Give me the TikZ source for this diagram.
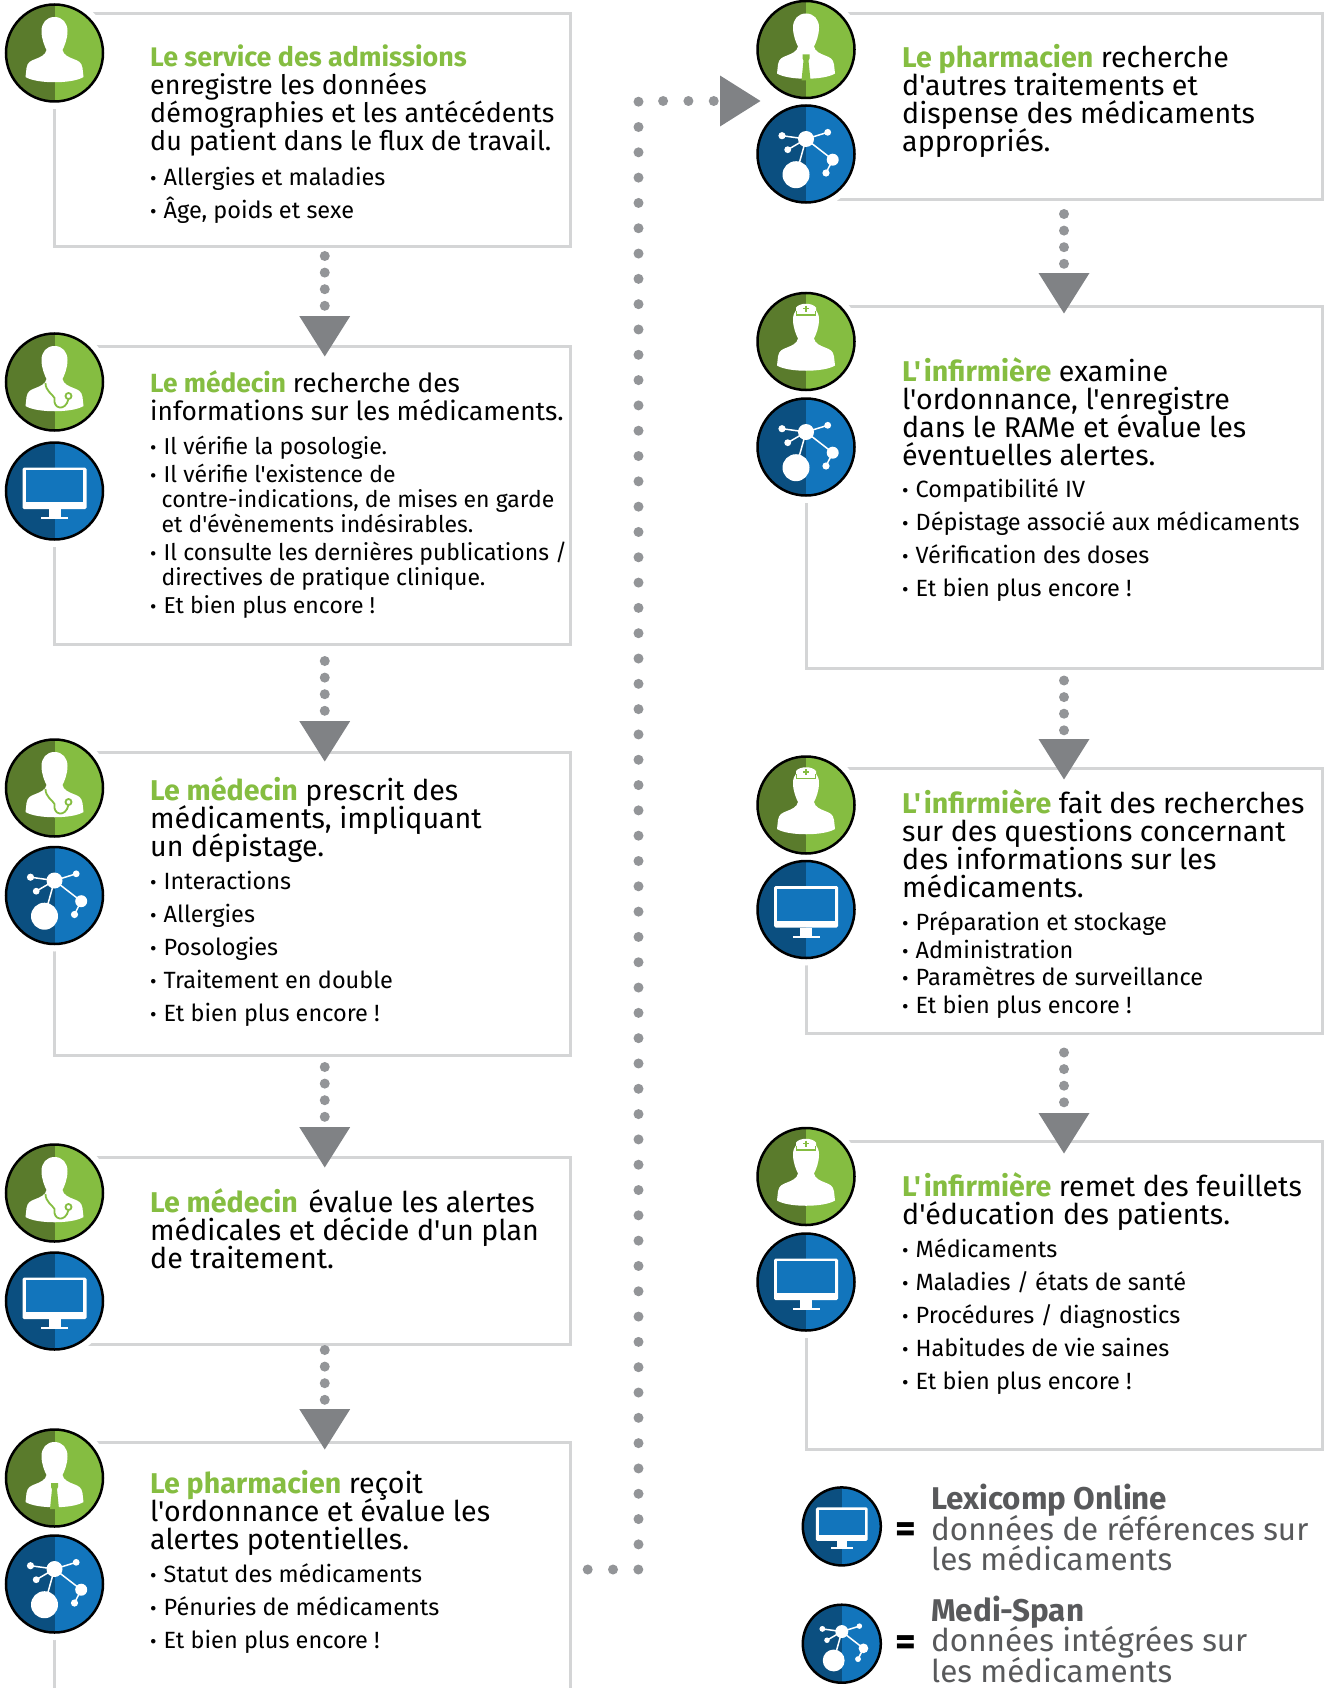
\documentclass[tikz,border=0pt]{standalone}
\usepackage{fontspec}
\setmainfont{Fira Sans}[Ligatures=TeXOff]
\usepackage{tikz}
\usetikzlibrary{positioning}
\usetikzlibrary{arrows.meta}
\definecolor{lightgreen}{HTML}{85BD41}
\definecolor{darkgreen}{HTML}{5A7B2C}
\definecolor{lightblue}{HTML}{1275BC}
\definecolor{darkblue}{HTML}{0B4F80}
\definecolor{framegrey}{HTML}{D4D5D6}
\definecolor{dotgrey}{HTML}{939598}
\definecolor{trigrey}{HTML}{808285}
\definecolor{legendgrey}{HTML}{58595B}
\newcommand{\role}[1]{\textcolor{lightgreen}{\textbf{#1}}}
\newcommand{\puce}{\makebox[13.5pt][l]{\scalebox{0.85}{•}}}
\newcommand{\suite}{\hspace*{11.5pt}}
\newcommand{\tailletexte}[2]{\fontsize{#1}{#2}\selectfont\lineskiplimit=-100pt\relax}
\tikzset{
  frame/.style={rectangle, draw=framegrey, line width=3pt, outer sep=0pt, inner sep=0pt, anchor=north west},
  badge/.style={circle, draw=black, line width=2.5pt, outer sep=0pt, inner sep=0pt, minimum size=97pt},
  greenbadge/.style={badge, fill=lightgreen, path picture={\fill[darkgreen] (path picture bounding box.north west) rectangle (path picture bounding box.south);}},
  bluebadge/.style={badge, fill=lightblue, path picture={\fill[darkblue] (path picture bounding box.north west) rectangle (path picture bounding box.south);}},
  flow/.style={line width=10pt, dotgrey, line cap=round, dash pattern=on 0pt off 16.6pt, -{Triangle[length=41pt,width=48pt,color=trigrey]}},
  longflow/.style={flow, dash pattern=on 0pt off 25.31pt},
  headtext/.style={anchor=north west, inner sep=0pt, align=left, font=\tailletexte{28.6}{28}},
  headsmall/.style={headtext, font=\tailletexte{26.85}{28}},
  listwide/.style={anchor=north west, inner sep=0pt, align=left, font=\tailletexte{23.5}{33}},
  listtight/.style={anchor=north west, inner sep=0pt, align=left, font=\tailletexte{23.5}{27.7}},
  legendtext/.style={anchor=north west, inner sep=0pt, align=left, text=legendgrey, font=\tailletexte{31.4}{30.5}},
  equal/.style={inner sep=0pt, font=\tailletexte{40}{40}\bfseries},
  bust/.pic={
    \fill[white] (0,-36) .. controls (8,-36) and (13,-30) .. (13,-22) .. controls (13,-14) and (10,-7) .. (8,-3)
      .. controls (9,2) and (14,4) .. (19,6) .. controls (24,8) and (27,9) .. (28,15) -- (29,24)
      .. controls (18,31) and (-18,31) .. (-29,24) -- (-28,15)
      .. controls (-27,9) and (-24,8) .. (-19,6) .. controls (-14,4) and (-9,2) .. (-8,-3)
      .. controls (-10,-7) and (-13,-14) .. (-13,-22) .. controls (-13,-30) and (-8,-36) .. (0,-36) -- cycle;
  },
  doctoricon/.pic={
    \pic {bust};
    \draw[lightgreen, line width=1.8pt] (-9,1) .. controls (-9,9) and (-2,12) .. (0,16) .. controls (-2,27) and (11,30) .. (14,17);
    \draw[lightgreen, line width=1.8pt, fill=white] (14,14) circle [radius=3];
  },
  pharmaicon/.pic={
    \pic {bust};
    \fill[lightgreen] (-3.5,5) -- (3.5,5) -- (3.5,9) -- (2.5,11) -- (4.5,31) -- (-4.5,31) -- (-2.5,11) -- (-3.5,9) -- cycle;
  },
  nurseicon/.pic={
    \pic {bust};
    \fill[white] (-10,-27) -- (-10,-34) .. controls (-6,-39) and (6,-39) .. (10,-34) -- (10,-27) -- cycle;
    \draw[lightgreen, line width=1.1pt] (-9.5,-31) -- (-9.5,-26.5) -- (9.5,-26.5) -- (9.5,-31);
    \draw[lightgreen, line width=1.3pt] (-3,-33) -- (3,-33) (0,-36) -- (0,-30);
  },
  screenicon/.pic={
    \fill[white, rounded corners=1.5pt] (-32,-23.5) rectangle (32,18);
    \fill[lightblue] (-28.7,-20.7) rectangle (28.7,11);
    \fill[white] (-6,18) rectangle (6,26);
    \fill[white] (-13.5,26) rectangle (13.5,28);
  },
  neticon/.pic={
    \draw[white, line width=1.5pt] (-10,20.7) -- (0,-15) -- (21.7,-21.7) (0,-15) -- (-24,-18.3) (0,-15) -- (-18.3,-4.3) (0,-15) -- (26.7,5.7) -- (20,19);
    \fill[white] (0,-15) circle [radius=8];
    \fill[white] (-10,20.7) circle [radius=13.5];
    \fill[white] (21.7,-21.7) circle [radius=3.4];
    \fill[white] (-24,-18.3) circle [radius=3.6];
    \fill[white] (-18.3,-4.3) circle [radius=3.4];
    \fill[white] (26.7,5.7) circle [radius=6];
    \fill[white] (20,19) circle [radius=3.6];
  }
}
\begin{document}
\begin{tikzpicture}[x=1pt, y=-1pt]
\useasboundingbox (0,0) rectangle (1325,1688);
\clip (0,0) rectangle (1325,1688);
% frames
\node[frame, minimum width=516.5pt, minimum height=232.5pt] (box1) at (54,14) {};
\node[frame, minimum width=516.5pt, minimum height=298pt] (box2) at (54,346) {};
\node[frame, minimum width=516.5pt, minimum height=303pt] (box3) at (54,752) {};
\node[frame, minimum width=516.5pt, minimum height=187.5pt] (box4) at (54,1157) {};
\node[frame, minimum width=516.5pt, minimum height=280pt] (box5) at (54,1442) {};
\node[frame, minimum width=516pt, minimum height=186pt] (box6) at (806,14) {};
\node[frame, minimum width=516pt, minimum height=362.5pt] (box7) at (806,306) {};
\node[frame, minimum width=516pt, minimum height=265pt] (box8) at (806,768.5) {};
\node[frame, minimum width=516pt, minimum height=308pt] (box9) at (806,1141) {};
% white gaps round the badges
\foreach \hx/\hy in {54.5/53, 54.5/382, 54.5/491, 54.5/788, 54.5/895.5, 54.5/1193, 54.5/1301, 54.5/1478, 54.5/1584,
    806/49.5, 806/154, 806/341.5, 806/447, 806/805, 806/909.5, 806/1176.5, 806/1282}
  \fill[white] (\hx,\hy) circle [radius=56];
% badges
\node[greenbadge] (admis) at (54.5,53) {};
\pic at (admis) {bust};
\node[greenbadge] (doc1) at (54.5,382) {};
\pic at (doc1) {doctoricon};
\node[bluebadge] (lex1) at (54.5,491) {};
\pic at (lex1) {screenicon};
\node[greenbadge] (doc2) at (54.5,788) {};
\pic at (doc2) {doctoricon};
\node[bluebadge] (span1) at (54.5,895.5) {};
\pic at (span1) {neticon};
\node[greenbadge] (doc3) at (54.5,1193) {};
\pic at (doc3) {doctoricon};
\node[bluebadge] (lex2) at (54.5,1301) {};
\pic at (lex2) {screenicon};
\node[greenbadge] (pharma1) at (54.5,1478) {};
\pic at (pharma1) {pharmaicon};
\node[bluebadge] (span2) at (54.5,1584) {};
\pic at (span2) {neticon};
\node[greenbadge] (pharma2) at (806,49.5) {};
\pic at (pharma2) {pharmaicon};
\node[bluebadge] (span3) at (806,154) {};
\pic at (span3) {neticon};
\node[greenbadge] (nurse1) at (806,341.5) {};
\pic at (nurse1) {nurseicon};
\node[bluebadge] (span4) at (806,447) {};
\pic at (span4) {neticon};
\node[greenbadge] (nurse2) at (806,805) {};
\pic at (nurse2) {nurseicon};
\node[bluebadge] (lex3) at (806,909.5) {};
\pic at (lex3) {screenicon};
\node[greenbadge] (nurse3) at (806,1176.5) {};
\pic at (nurse3) {nurseicon};
\node[bluebadge] (lex4) at (806,1282) {};
\pic at (lex4) {screenicon};
% flows
\draw[flow] ([xshift=12.5pt,yshift=-9.5pt]box1.south) -- ([xshift=12.5pt,yshift=-11pt]box2.north);
\draw[flow] ([xshift=12.5pt,yshift=-17pt]box2.south) -- ([xshift=12.5pt,yshift=-10pt]box3.north);
\draw[flow] ([xshift=12.5pt,yshift=-12pt]box3.south) -- ([xshift=12.5pt,yshift=-11pt]box4.north);
\draw[flow] ([xshift=12.5pt,yshift=-5.5pt]box4.south) -- ([xshift=12.5pt,yshift=-8pt]box5.north);
\draw[flow] ([yshift=-14pt]box6.south) -- ([yshift=-8pt]box7.north);
\draw[flow] ([yshift=-12pt]box7.south) -- ([yshift=-11.5pt]box8.north);
\draw[flow] ([yshift=-19pt]box8.south) -- ([yshift=-13pt]box9.north);
\coordinate (longstart) at (587.7,1569.5);
\coordinate (longbottom) at (638.5,1569.5);
\coordinate (longtop) at (638.5,101);
\coordinate (longend) at (761,101);
\draw[longflow] (longstart) -- (longbottom) -- (longtop) -- (longend);
% texts
\node[headsmall] (head1) at (150,44.8) {\role{Le service des admissions}\\enregistre les données\\démographies et les antécédents\\du patient dans le flux de travail.};
\node[listwide] (list1) at (150,166.5) {\puce Allergies et maladies\\\puce Âge, poids et sexe};
\node[headsmall, font=\tailletexte{26.3}{28}] (head2) at (150,370.8) {\role{Le médecin} recherche des\\informations sur les médicaments.};
\node[listtight, font=\tailletexte{23}{27.7}] (list2) at (150,436) {\puce Il vérifie la posologie.\\\puce Il vérifie l'existence de\\[-2.4pt]\suite contre-indications, de mises en garde\\[-2.4pt]\suite et d'évènements indésirables.\\\puce Il consulte les dernières publications /\\[-2.4pt]\suite directives de pratique clinique.\\\puce Et bien plus encore !};
\node[headtext] (head3) at (150,776.5) {\role{Le médecin} prescrit des\\médicaments, impliquant\\un dépistage.};
\node[listwide] (list3) at (150,870.5) {\puce Interactions\\\puce Allergies\\\puce Posologies\\\puce Traitement en double\\\puce Et bien plus encore !};
\node[headtext] (head4) at (150,1188.5) {\role{Le médecin}\hspace{3pt} évalue les alertes\\médicales et décide d'un plan\\de traitement.};
\node[headtext] (head5) at (150,1470.5) {\role{Le pharmacien} reçoit\\l'ordonnance et évalue les\\alertes potentielles.};
\node[listwide] (list5) at (150,1563.7) {\puce Statut des médicaments\\\puce Pénuries de médicaments\\\puce Et bien plus encore !};
\node[headtext] (head6) at (902,44.5) {\role{Le pharmacien} recherche\\d'autres traitements et\\dispense des médicaments\\appropriés.};
\node[headtext] (head7) at (902,357.5) {\role{L'\kern3pt infirmière} examine\\l'ordonnance, l'enregistre\\dans le RAMe et évalue les\\éventuelles alertes.};
\node[listwide] (list7) at (902,478.7) {\puce Compatibilité IV\\\puce Dépistage associé aux médicaments\\\puce Vérification des doses\\\puce Et bien plus encore !};
\node[headtext] (head8) at (902,789.5) {\role{L'\kern3pt infirmière} fait des recherches\\sur des questions concernant\\des informations sur les\\médicaments.};
\node[listtight] (list8) at (902,911.4) {\puce Préparation et stockage\\\puce Administration\\\puce Paramètres de surveillance\\\puce Et bien plus encore !};
\node[headtext] (head9) at (902,1172.5) {\role{L'\kern3pt infirmière} remet des feuillets\\d'éducation des patients.};
\node[listwide] (list9) at (902,1238.6) {\puce Médicaments\\\puce Maladies / états de santé\\\puce Procédures / diagnostics\\\puce Habitudes de vie saines\\\puce Et bien plus encore !};
% legend
\node[bluebadge, minimum size=78pt] (keylex) at (841.8,1526.4) {};
\pic[scale=0.81] at (keylex) {screenicon};
\node[bluebadge, minimum size=78pt] (keyspan) at (841.8,1643.7) {};
\pic[scale=0.81] at (keyspan) {neticon};
\node[equal] (eqlex) at (906,1532.6) {=};
\node[equal] (eqspan) at (906,1645.6) {=};
\node[legendtext] (textlex) at (931,1484) {\textbf{Lexicomp Online}\\données de références sur\\les médicaments};
\node[legendtext] (textspan) at (931,1595.5) {\textbf{Medi-Span}\\données intégrées sur\\les médicaments};
\end{tikzpicture}
\end{document}
